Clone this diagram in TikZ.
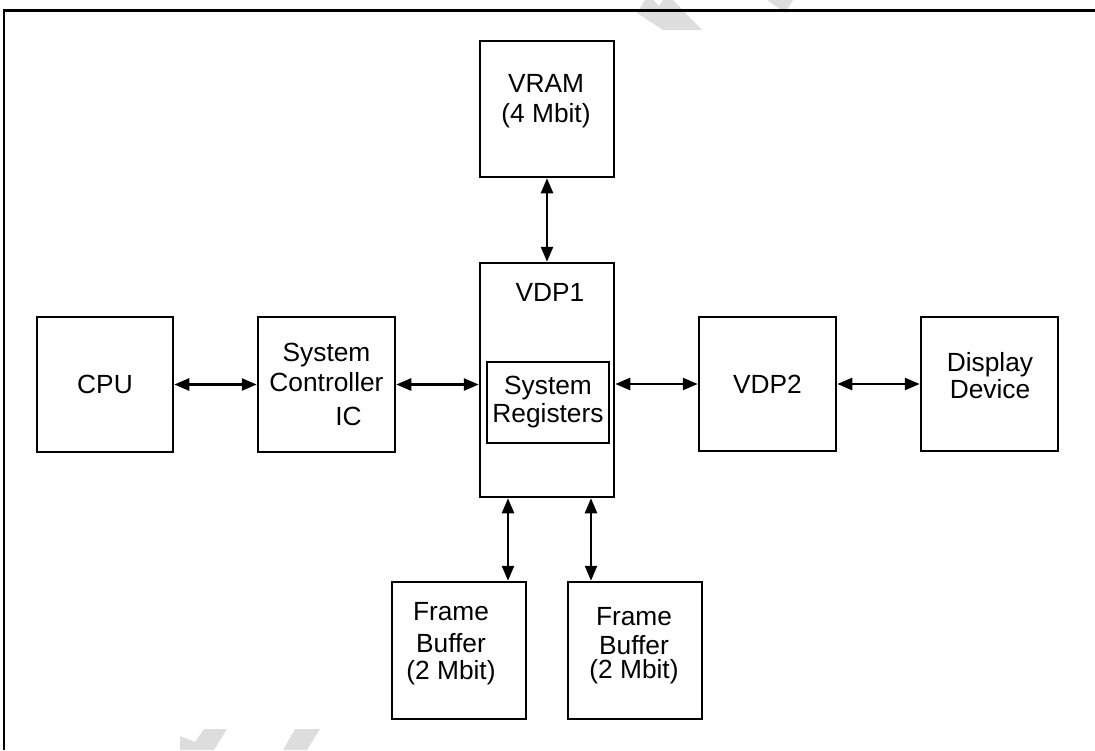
\documentclass[tikz,border=0pt]{standalone}
\usepackage{fontspec}
\setmainfont{Liberation Sans}
\usepackage{xcolor}
\usetikzlibrary{positioning, arrows.meta, calc}
\definecolor{wmgray}{RGB}{221,221,221}

\begin{document}
\begin{tikzpicture}[
  x=1pt, y=-1pt,
  box/.style={rectangle, draw, line width=2.5pt, minimum width=134pt,
              minimum height=135pt, inner sep=0pt, align=center},
  txt/.style={inner sep=0pt, align=center},
  link/.style={line width=2.5pt, {Triangle[length=15pt, width=12pt]}-{Triangle[length=15pt, width=12pt]}},
  every node/.style={font=\fontsize{26.3}{30}\selectfont}
]
  \useasboundingbox (0,0) rectangle (1095,750);
  \fill[wmgray] (637,13) -- (645,0) -- (653,0) -- (659,6) -- (663,0) -- (673,0)
                -- (702,30) -- (663,30) -- cycle;
  \fill[wmgray] (767,0) -- (793,0) -- (785,13) -- (777,7) -- cycle;
  \fill[wmgray] (180,736) -- (195,742) -- (204,729) -- (227,729) -- (214,750)
                -- (180,750) -- cycle;
  \fill[wmgray] (295,729) -- (320,729) -- (307,750) -- (283,750) -- cycle;
  \draw[line width=2.5pt] (4,750) -- (4,10.5) -- (1095,10.5);

  \node[box, minimum width=136pt] (cpu) at (105,384.5) {CPU};
  \node[box, minimum width=137pt] (sysctl) at (326.5,384.5)
    {System\\Controller\\[4pt]\hspace*{44pt}IC};
  \node[box, minimum height=234pt] (vdp1) at (547,380) {};
  \node[txt] (vdp1txt) at (550,292.5) {VDP1};
  \node[box, minimum width=122pt, minimum height=81pt] (sysreg) at (548,402.5)
    {System\\[-2pt]Registers};
  \node[box, minimum height=136pt] (vram) at (547,109) {};
  \node[txt] (vramtxt) at (546,101) {VRAM\\(4 Mbit)};
  \node[box, minimum width=137pt, minimum height=134pt] (vdp2) at (767.5,384) {VDP2};
  \node[box, minimum width=137pt, minimum height=134pt] (disp) at (989.5,384) {};
  \node[txt] (disptxt) at (990,376) {Display\\[-3pt]Device};
  \node[box, minimum height=137pt] (fbA) at (459,650.5) {};
  \node[txt] (fbAtxt) at (451,644) {Frame\\[2pt]Buffer\\[-3pt](2 Mbit)};
  \node[box, minimum height=137pt] (fbB) at (635,650.5) {};
  \node[txt] (fbBtxt) at (634,646) {Frame\\[-1pt]Buffer\\[-6pt](2 Mbit)};

  \coordinate (busA) at ([xshift=-39pt]vdp1.south);
  \coordinate (busB) at ([xshift=44pt]vdp1.south);

  \draw[link] (cpu) -- (sysctl);
  \draw[link] (sysctl.east) -- (sysctl.east -| vdp1.west);
  \draw[link] (vdp1.east |- vdp2) -- (vdp2.west);
  \draw[link] (vdp2) -- (disp);
  \draw[link] (vram) -- (vdp1);
  \draw[link] (busA) -- (busA |- fbA.north);
  \draw[link] (busB) -- (busB |- fbB.north);
\end{tikzpicture}
\end{document}
